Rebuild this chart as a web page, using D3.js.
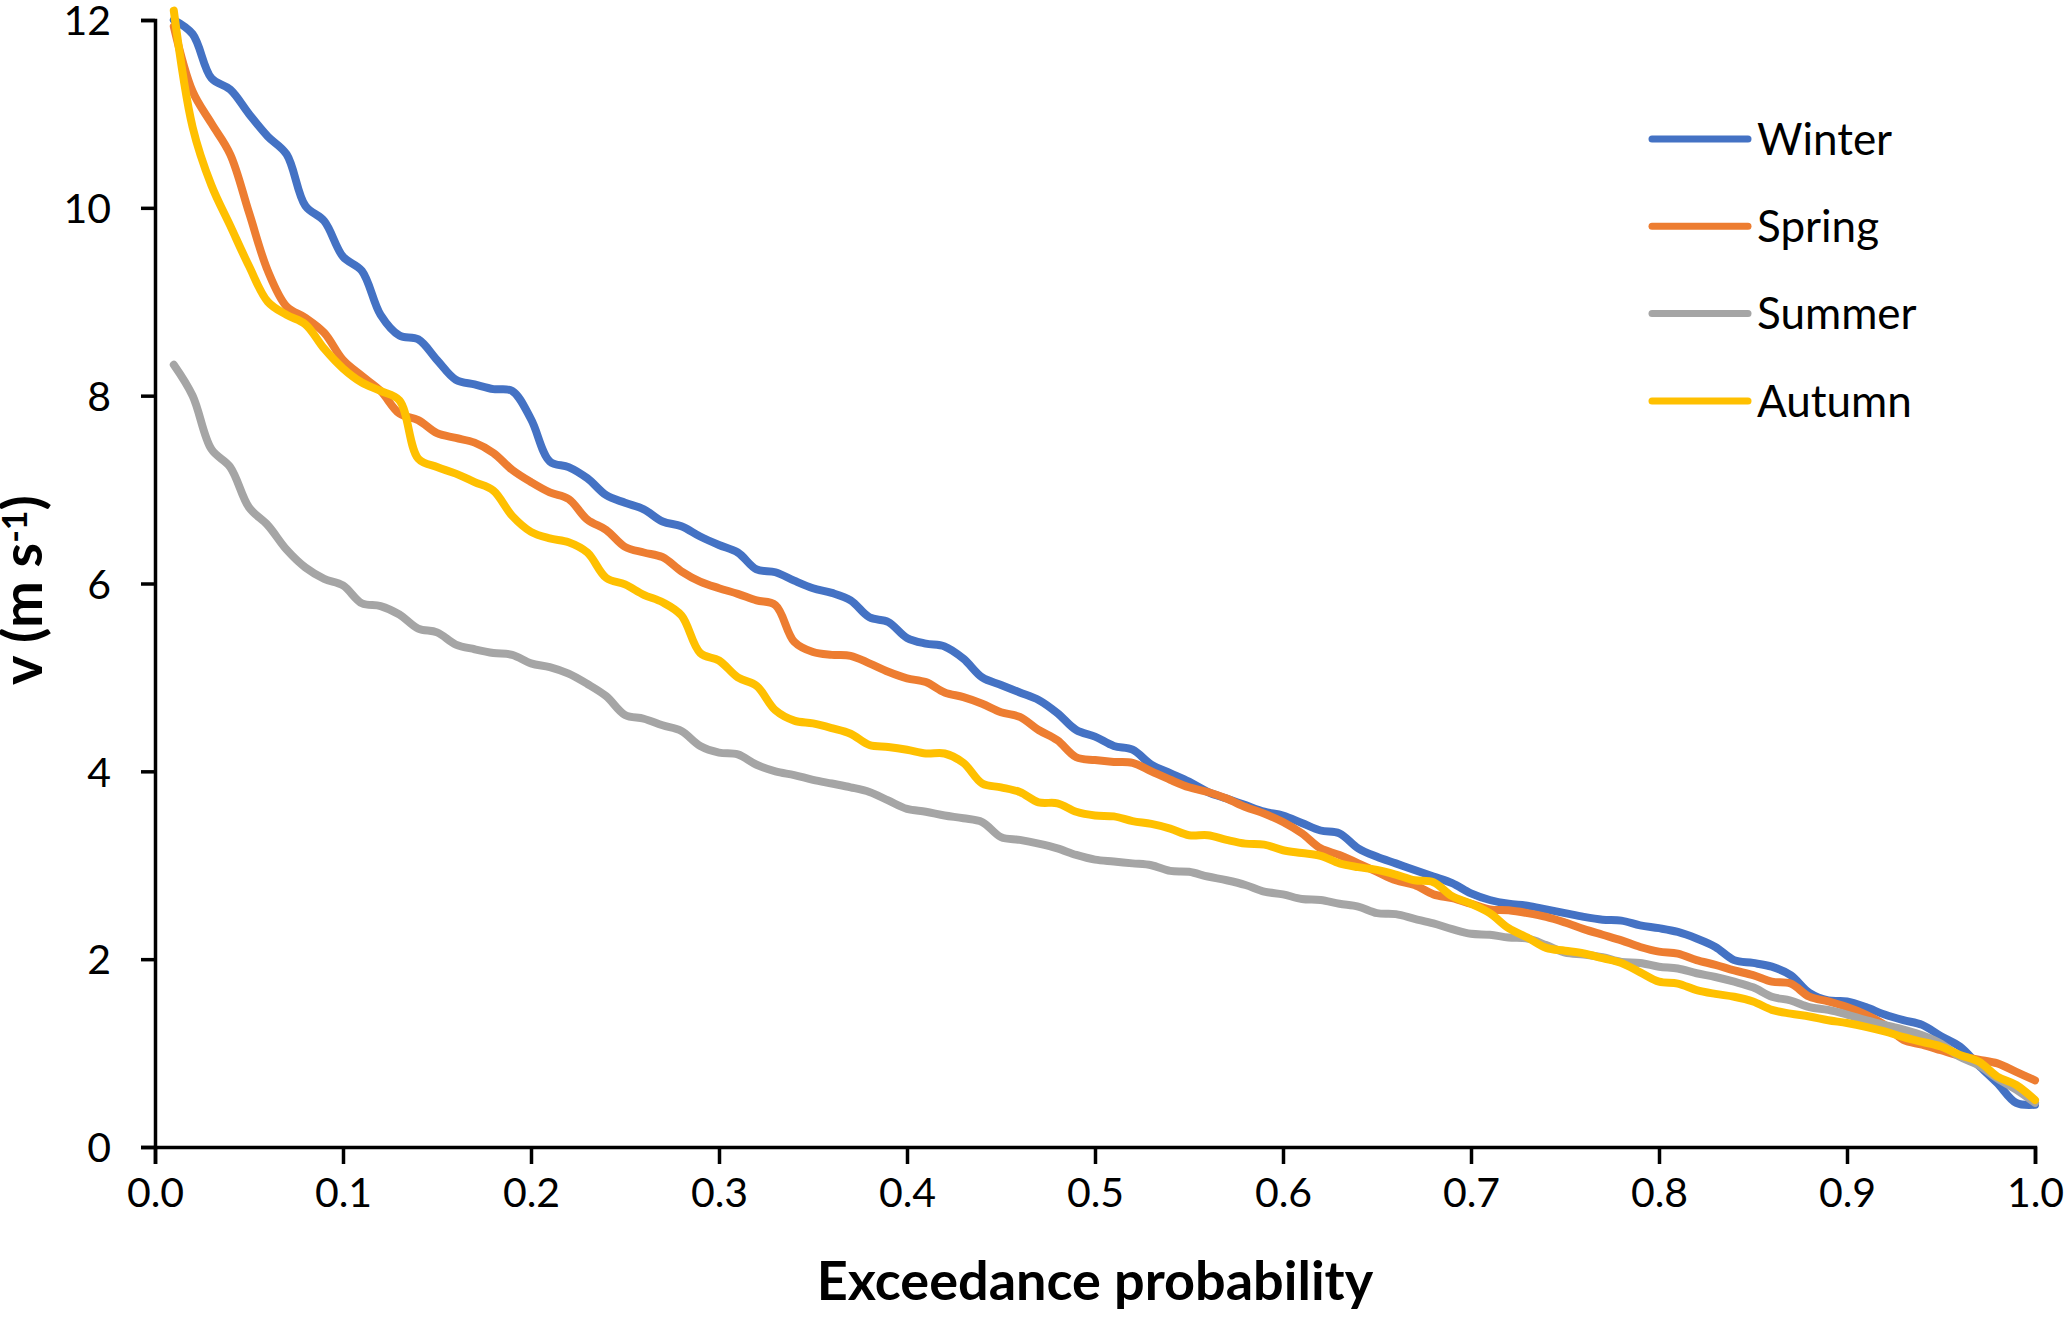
<!DOCTYPE html>
<html lang="en">
<head>
<meta charset="UTF-8">
<title>Exceedance probability</title>
<script src="https://cdn.jsdelivr.net/npm/d3@7"></script>
<style>
  body { margin: 0; background: #fff; }
  text { font-family: Lato, "Open Sans", sans-serif; fill: #000; }
</style>
</head>
<body>
<div id="chart"></div>
<script>
// exceedance probability 0.01 .. 1.00
var prob = d3.range(1, 101).map(function(k){ return k / 100; });

var winter = [12.0,11.85,11.38,11.26,11.0,10.76,10.57,10.02,9.86,9.48,
  9.33,8.86,8.64,8.6,8.38,8.17,8.12,8.07,8.05,7.75,
  7.3,7.24,7.12,6.94,6.86,6.79,6.66,6.61,6.5,6.41,
  6.33,6.15,6.12,6.03,5.95,5.9,5.82,5.64,5.59,5.42,
  5.36,5.33,5.2,5.0,4.92,4.84,4.76,4.62,4.44,4.37,
  4.27,4.23,4.07,3.98,3.89,3.78,3.71,3.64,3.57,3.53,
  3.45,3.37,3.34,3.18,3.09,3.02,2.95,2.88,2.81,2.7,
  2.63,2.59,2.57,2.53,2.49,2.45,2.42,2.41,2.36,2.33,
  2.29,2.22,2.13,1.99,1.96,1.92,1.83,1.64,1.56,1.55,
  1.49,1.41,1.35,1.3,1.18,1.07,0.87,0.68,0.47,0.45];

var spring = [11.93,11.24,10.9,10.57,9.95,9.33,8.95,8.83,8.67,8.38,
  8.21,8.05,7.81,7.74,7.6,7.55,7.5,7.39,7.21,7.08,
  6.97,6.9,6.68,6.57,6.39,6.33,6.28,6.13,6.02,5.95,
  5.89,5.82,5.77,5.38,5.27,5.24,5.23,5.15,5.06,4.99,
  4.95,4.84,4.79,4.72,4.63,4.58,4.44,4.33,4.15,4.12,
  4.1,4.09,4.0,3.91,3.83,3.78,3.71,3.62,3.55,3.46,
  3.34,3.18,3.11,3.02,2.93,2.84,2.79,2.69,2.65,2.59,
  2.53,2.52,2.49,2.45,2.39,2.32,2.26,2.2,2.13,2.08,
  2.06,1.99,1.94,1.88,1.83,1.76,1.74,1.6,1.55,1.49,
  1.41,1.3,1.14,1.09,1.03,0.97,0.93,0.89,0.8,0.71];

var summer = [8.33,8.0,7.43,7.24,6.81,6.62,6.36,6.17,6.05,5.98,
  5.79,5.76,5.67,5.52,5.48,5.35,5.3,5.26,5.24,5.15,
  5.11,5.04,4.93,4.8,4.6,4.56,4.49,4.43,4.27,4.2,
  4.18,4.07,4.0,3.96,3.91,3.87,3.83,3.78,3.69,3.6,
  3.57,3.53,3.5,3.46,3.3,3.27,3.23,3.18,3.11,3.06,
  3.04,3.02,3.0,2.94,2.93,2.88,2.84,2.79,2.72,2.69,
  2.64,2.63,2.59,2.56,2.49,2.48,2.43,2.38,2.32,2.27,
  2.26,2.23,2.22,2.15,2.07,2.05,2.02,1.97,1.96,1.92,
  1.9,1.85,1.81,1.76,1.7,1.6,1.56,1.49,1.46,1.41,
  1.35,1.3,1.25,1.19,1.1,0.96,0.87,0.73,0.61,0.47];

var autumn = [12.1,10.86,10.24,9.81,9.38,9.0,8.86,8.76,8.5,8.29,
  8.14,8.05,7.95,7.33,7.24,7.17,7.08,6.99,6.72,6.55,
  6.48,6.44,6.33,6.06,5.99,5.88,5.8,5.66,5.26,5.18,
  5.0,4.91,4.65,4.54,4.51,4.46,4.4,4.28,4.26,4.23,
  4.19,4.19,4.09,3.87,3.83,3.78,3.67,3.66,3.57,3.53,
  3.52,3.47,3.44,3.39,3.32,3.32,3.27,3.23,3.22,3.16,
  3.13,3.1,3.02,2.98,2.95,2.9,2.84,2.82,2.67,2.59,
  2.49,2.33,2.23,2.12,2.09,2.06,2.01,1.96,1.86,1.76,
  1.74,1.67,1.63,1.6,1.55,1.46,1.42,1.39,1.35,1.32,
  1.28,1.23,1.17,1.12,1.07,0.98,0.91,0.75,0.66,0.5];

var seasons = ['Winter', 'Spring', 'Summer', 'Autumn'];
var colors = ['#4472C4', '#ED7D31', '#A5A5A5', '#FFC000'];
var xTicks = d3.range(0, 11).map(function(i){ return i / 10; });
var yTicks = [0, 2, 4, 6, 8, 10, 12];

var W = 2067, H = 1318;
var plotL = 155, plotR = 2035, plotT = 20, plotB = 1147;

var svg = d3.select('#chart').append('svg')
    .attr('width', W)
    .attr('height', H);

var x = d3.scaleLinear().domain([0, 1]).range([plotL, plotR]);
var y = d3.scaleLinear().domain([0, 12]).range([plotB, plotT]);

// axes
var xAxis = svg.append('g')
    .attr('transform', 'translate(0,' + plotB + ')')
    .call(d3.axisBottom(x).tickValues(xTicks).tickSize(17).tickPadding(14)
        .tickFormat(d3.format('.1f')));
var yAxis = svg.append('g')
    .attr('transform', 'translate(' + plotL + ',0)')
    .call(d3.axisLeft(y).tickValues(yTicks).tickSize(14).tickPadding(30)
        .tickFormat(d3.format('d')));

[xAxis, yAxis].forEach(function(a){
    a.select('.domain').attr('stroke', '#000').attr('stroke-width', 3.5);
    a.selectAll('.tick line').attr('stroke', '#000').attr('stroke-width', 3.5);
    a.selectAll('.tick text').style('font-size', '41px').attr('fill', '#000');
});
yAxis.selectAll('.tick text').attr('dy', '0.36em');

// lines
var line = d3.line()
    .x(function(d){ return x(d[0]); })
    .y(function(d){ return y(d[1]); })
    .curve(d3.curveCatmullRom.alpha(0.5));

var series = [winter, spring, summer, autumn];
svg.append('g').selectAll('path')
    .data(series)
    .enter()
    .append('path')
    .attr('d', function(s){ return line(s.map(function(v, i){ return [prob[i], v]; })); })
    .attr('fill', 'none')
    .attr('stroke', function(d, i){ return colors[i]; })
    .attr('stroke-width', 8)
    .attr('stroke-linecap', 'round')
    .attr('stroke-linejoin', 'round');

// legend
var legend = svg.append('g').selectAll('g')
    .data(seasons)
    .enter()
    .append('g')
    .attr('transform', function(d, i){ return 'translate(1652,' + (139 + i * 87.3) + ')'; });
legend.append('line')
    .attr('x1', 0).attr('x2', 96)
    .attr('stroke', function(d, i){ return colors[i]; })
    .attr('stroke-width', 7)
    .attr('stroke-linecap', 'round');
legend.append('text')
    .attr('x', 105)
    .attr('dy', '0.36em')
    .style('font-size', '44px')
    .text(function(d){ return d; });

// axis titles
svg.append('text')
    .attr('x', (plotL + plotR) / 2)
    .attr('y', 1300)
    .attr('text-anchor', 'middle')
    .style('font-size', '54px')
    .style('font-weight', 'bold')
    .text('Exceedance probability');

var yt = svg.append('text')
    .attr('transform', 'translate(42,590) rotate(-90)')
    .attr('text-anchor', 'middle')
    .style('font-size', '56px')
    .style('font-weight', 'bold');
yt.append('tspan').text('v (m s');
yt.append('tspan').attr('dy', '-0.45em').style('font-size', '34px').text('-1');
yt.append('tspan').attr('dy', '0.28em').text(')');
</script>
</body>
</html>
